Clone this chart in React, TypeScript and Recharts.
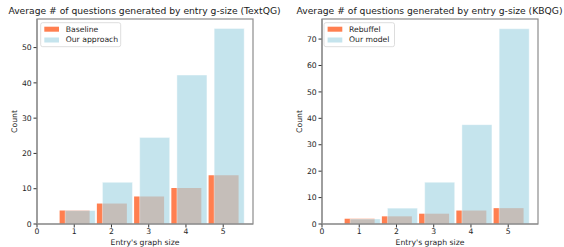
import React from "react";
import { ComposedChart, Bar, XAxis, YAxis } from "recharts";

const graphSizes = [1, 2, 3, 4, 5];
const xTicks = [0, 1, 2, 3, 4, 5];

const textqgBaseline = [3.8, 5.8, 7.8, 10.2, 13.8];
const textqgOurs = [3.8, 11.8, 24.5, 42.2, 55.4];
const textqgYTicks = [0, 10, 20, 30, 40, 50];

const kbqgRebuffel = [2.0, 2.9, 3.9, 5.1, 6.0];
const kbqgOurs = [1.9, 6.0, 15.8, 37.6, 73.9];
const kbqgYTicks = [0, 10, 20, 30, 40, 50, 60, 70];

const ORANGE = "#FF7F50";
const BLUE = "#ADD8E6";
const BLUE_ALPHA = 0.7;
const SPINE = "#8c8c8c";
const FONT = "DejaVu Sans, sans-serif";

type PanelProps = {
  left: number;
  yAxisWidth: number;
  marginRight: number;
  baseline: number[];
  ours: number[];
  yTicks: number[];
  yMax: number;
};

function Panel({ left, yAxisWidth, marginRight, baseline, ours, yTicks, yMax }: PanelProps) {
  const data = graphSizes.map((g, i) => ({ g, base: baseline[i], ours: ours[i] }));
  const tickStyle = { fontSize: 7.7, fill: "#262626", fontFamily: FONT };
  return (
    <div style={{ position: "absolute", left, top: 0 }}>
      <ComposedChart
        width={282}
        height={247}
        data={data}
        margin={{ top: 19, right: marginRight, bottom: 0, left: 0 }}
      >
        <XAxis
          xAxisId="a"
          dataKey="g"
          type="number"
          domain={[0, 5.8]}
          ticks={xTicks}
          allowDataOverflow
          height={23}
          tickSize={3.5}
          tickMargin={1}
          tick={tickStyle}
          axisLine={{ stroke: SPINE, strokeWidth: 1.2 }}
          tickLine={{ stroke: "#333" }}
          interval={0}
        />
        <XAxis
          xAxisId="b"
          dataKey="g"
          type="number"
          domain={[-0.15, 5.65]}
          ticks={graphSizes}
          allowDataOverflow
          hide
        />
        <YAxis
          type="number"
          domain={[0, yMax]}
          ticks={yTicks}
          allowDataOverflow
          width={yAxisWidth}
          tickSize={3.5}
          tickMargin={1.8}
          tick={tickStyle}
          axisLine={{ stroke: SPINE, strokeWidth: 1.2 }}
          tickLine={{ stroke: "#333" }}
          interval={0}
        />
        <Bar
          xAxisId="a"
          dataKey="base"
          fill={ORANGE}
          barSize={30}
          isAnimationActive={false}
        />
        <Bar
          xAxisId="b"
          dataKey="ours"
          fill={BLUE}
          fillOpacity={BLUE_ALPHA}
          stroke="white"
          strokeOpacity={0.5}
          strokeWidth={0.8}
          barSize={30}
          isAnimationActive={false}
        />
      </ComposedChart>
    </div>
  );
}

function Legend({ x, labels }: { x: number; labels: string[] }) {
  const w = labels[1].length > 10 ? 80 : 70.5;
  return (
    <g>
      <rect x={x} y={22.7} width={w} height={24} rx={2} fill="white" fillOpacity={0.8} stroke="#d4d4d4" strokeWidth={0.8} />
      <rect x={x + 3.6} y={26.7} width={14.7} height={5} fill={ORANGE} />
      <rect x={x + 3.6} y={37.5} width={14.7} height={5} fill={BLUE} fillOpacity={BLUE_ALPHA} />
      <text x={x + 25} y={31.8} fontSize={7.7} fontFamily={FONT} fill="#262626">{labels[0]}</text>
      <text x={x + 25} y={42.4} fontSize={7.7} fontFamily={FONT} fill="#262626">{labels[1]}</text>
    </g>
  );
}

export default function App() {
  return (
    <div style={{ position: "absolute", left: 0, top: 0, width: 564, height: 247, background: "white", overflow: "hidden" }}>
      <Panel left={0} yAxisWidth={37} marginRight={29} baseline={textqgBaseline} ours={textqgOurs} yTicks={textqgYTicks} yMax={58.1} />
      <Panel left={282} yAxisWidth={40} marginRight={26} baseline={kbqgRebuffel} ours={kbqgOurs} yTicks={kbqgYTicks} yMax={77.6} />
      <svg width={564} height={247} style={{ position: "absolute", left: 0, top: 0, pointerEvents: "none" }}>
        <rect x={37} y={19} width={216} height={205} fill="none" stroke={SPINE} strokeWidth={1.2} />
        <rect x={322} y={19} width={216} height={205} fill="none" stroke={SPINE} strokeWidth={1.2} />
        <text x={144.5} y={14} textAnchor="middle" fontSize={9.2} fontFamily={FONT} fill="#1a1a1a">
          Average # of questions generated by entry g-size (TextQG)
        </text>
        <text x={429.5} y={14} textAnchor="middle" fontSize={9.2} fontFamily={FONT} fill="#1a1a1a">
          Average # of questions generated by entry g-size (KBQG)
        </text>
        <Legend x={40.7} labels={["Baseline", "Our approach"]} />
        <Legend x={324} labels={["Rebuffel", "Our model"]} />
        <text x={145} y={245} textAnchor="middle" fontSize={7.7} fontFamily={FONT} fill="#262626">Entry's graph size</text>
        <text x={430} y={245} textAnchor="middle" fontSize={7.7} fontFamily={FONT} fill="#262626">Entry's graph size</text>
        <text transform="translate(16.7,121.5) rotate(-90)" textAnchor="middle" fontSize={7.7} fontFamily={FONT} fill="#262626">Count</text>
        <text transform="translate(301.5,121.5) rotate(-90)" textAnchor="middle" fontSize={7.7} fontFamily={FONT} fill="#262626">Count</text>
      </svg>
    </div>
  );
}
